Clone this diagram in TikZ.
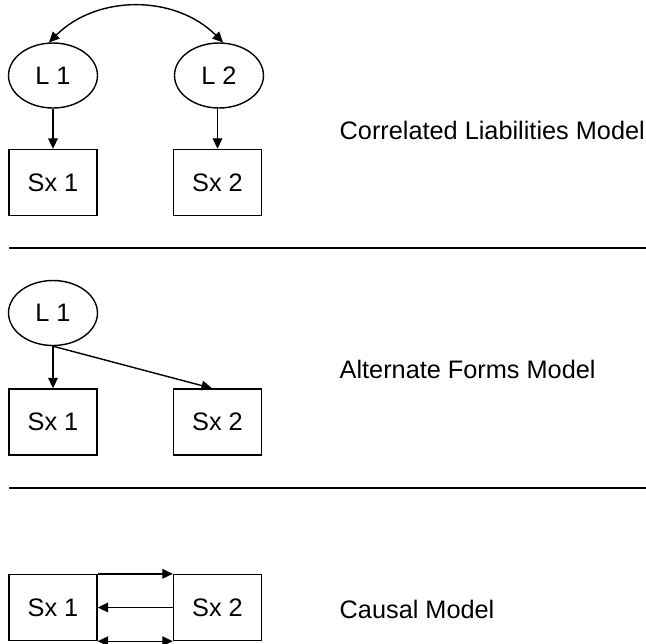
\documentclass[tikz,border=0pt]{standalone}
\usepackage{fontspec}
\setmainfont{Liberation Sans}
\usetikzlibrary{shapes.geometric, arrows.meta}

\begin{document}
\begin{tikzpicture}[x=0.02cm, y=-0.02cm, line width=0.8pt, >={Triangle[length=6pt, width=5.5pt]},
    font=\fontsize{14.4}{17}\selectfont,
    myellipse/.style={ellipse, minimum width=1.78cm, minimum height=1.3cm, inner sep=0pt, draw=black},
    mybox/.style={rectangle, minimum width=1.76cm, minimum height=1.32cm, inner sep=0pt, draw=black},
    mylabel/.style={anchor=base west, inner sep=0pt}]
    \useasboundingbox (0,0) rectangle (646,643);
    % correlated liabilities
    \node[myellipse] (myL1) at (53,75.5) {L 1};
    \node[myellipse] (myL2) at (219,75.5) {L 2};
    \node[mybox] (mySx1) at (53,182.5) {Sx 1};
    \node[mybox] (mySx2) at (217.5,182.5) {Sx 2};
    \draw[<->] (myL1.97) to[out=45, in=135] (myL2.83);
    \draw[->] (myL1.south) -- (mySx1.north);
    \draw[->] (myL2.south -| mySx2.north) -- (mySx2.north);
    \node[mylabel] (myCL) at (339,139) {Correlated Liabilities Model};
    \coordinate (myRuleAl) at (9,248);
    \coordinate (myRuleAr) at (646,248);
    \draw (myRuleAl) -- (myRuleAr);
    % alternate forms
    \node[myellipse] (myL1b) at (53,313) {L 1};
    \node[mybox] (mySx1b) at (53,422) {Sx 1};
    \node[mybox] (mySx2b) at (217.5,422) {Sx 2};
    \draw[->] (myL1b.south) -- (mySx1b.north);
    \draw[->] (myL1b.south) -- ([xshift=-0.11cm]mySx2b.north);
    \node[mylabel] (myAF) at (339,378) {Alternate Forms Model};
    \coordinate (myRuleBl) at (9,488);
    \coordinate (myRuleBr) at (646,488);
    \draw (myRuleBl) -- (myRuleBr);
    % causal
    \node[mybox] (mySx1c) at (53,607.5) {Sx 1};
    \node[mybox] (mySx2c) at (217.5,607.5) {Sx 2};
    \draw[->] (mySx1c.north east) -- (mySx2c.north west);
    \draw[->] (mySx2c.west) -- (mySx1c.east);
    \draw[<->] (mySx1c.south east) -- (mySx2c.south west);
    \node[mylabel] (myCM) at (339,618) {Causal Model};
\end{tikzpicture}
\end{document}
